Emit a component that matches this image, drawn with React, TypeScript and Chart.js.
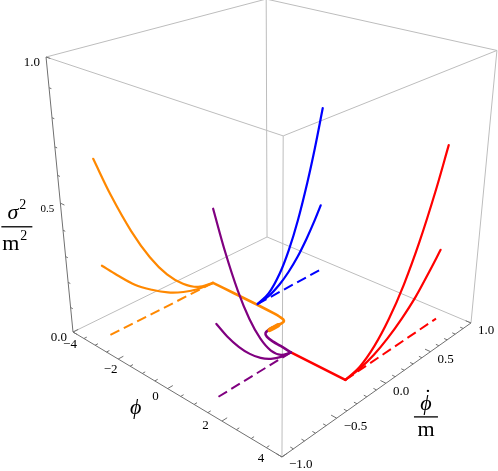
import React, { useEffect, useRef } from "react";
import { Chart, registerables } from "chart.js";
Chart.register(...registerables);

const W = 498;
const H = 471;

// ---- axis ranges ----
const PHI_MIN = -4, PHI_MAX = 4;
const DOT_MIN = -1, DOT_MAX = 1;
const SIG_MIN = 0, SIG_MAX = 1;

// ---- perspective camera (normalised box coords -> page units) ----
const CAM_X = [160.3, 243.3, -32.4, 73];
const CAM_Y = [46.1, -51.3, -281.7, 332];
const CAM_W = [-0.1726, 0.1845, -0.118, 1];

// ---- tick values / labels ----
const phiTicks = [-4, -2, 0, 2, 4];
const phiTickLabels = ["\u22124", "\u22122", "0", "2", "4"];
const phiMinorStep = 0.5;
const dotTicks = [-1, -0.5, 0, 0.5, 1];
const dotTickLabels = ["\u22121.0", "\u22120.5", "0.0", "0.5", "1.0"];
const dotMinorStep = 0.1;
const sigTicks = [0, 0.5, 1];
const sigTickLabels = ["0.0", "0.5", "1.0"];
const sigMinorStep = 0.1;

// ---- floor trajectory (sigma^2 = 0) ----
const orangePathPhi = [-3.1, -2.2, -1.22, -0.5, -0.24, -0.08, 0.01, 0.03, 0.025];
const orangePathDot = [0.155, 0.153, 0.15, 0.143, 0.137, 0.128, 0.11, 0.08, 0.045];
const orangeKnotPhi = [0.025, 0.02, 0.015];
const orangeKnotDot = [0.045, 0.0, -0.04];
const purplePathPhi = [0.02, 0.0, -0.01, 0.04, 0.21, 0.5, 0.8, 1.22];
const purplePathDot = [0.065, 0.01, -0.04, -0.09, -0.12, -0.135, -0.14, -0.15];
const redPathPhi = [1.22, 3.13];
const redPathDot = [-0.15, -0.15];

// ---- kicks: phi position, phidot samples, sigma^2 of the two branches ----
const orangeKickPhi = -3.1;
const orangeKickDot = [0.155, 0.0, -0.15, -0.3, -0.45, -0.6, -0.75, -0.87];
const orangeHighSig = [0, 0.015, 0.06, 0.13, 0.23, 0.36, 0.52, 0.67];
const orangeLowSig = [0, 0.006, 0.025, 0.055, 0.098, 0.15, 0.22, 0.28];

const blueKickPhi = -1.22;
const blueKickDot = [0.16, 0.28, 0.4, 0.5, 0.6, 0.7, 0.78, 0.86];
const blueHighSig = [0, 0.02, 0.079, 0.158, 0.265, 0.4, 0.526, 0.67];
const blueLowSig = [0, 0.008, 0.033, 0.066, 0.11, 0.167, 0.22, 0.28];
const blueDashDot = [0.16, 0.88];

const purpleKickPhi = 1.22;
const purpleKickDot = [-0.15, -0.25, -0.35, -0.45, -0.55, -0.65, -0.75, -0.84];
const purpleHighSig = [0, 0.014, 0.055, 0.125, 0.222, 0.347, 0.5, 0.66];
const purpleLowSig = [0, 0.006, 0.023, 0.051, 0.091, 0.142, 0.204, 0.27];
const purpleDashDot = [-0.15, -0.87];

const redKickPhi = 3.13;
const redKickDot = [-0.15, 0.0, 0.15, 0.3, 0.45, 0.6, 0.75, 0.87];
const redHighSig = [0, 0.014, 0.058, 0.13, 0.23, 0.36, 0.52, 0.67];
const redLowSig = [0, 0.006, 0.024, 0.055, 0.097, 0.15, 0.22, 0.28];
const redDashDot = [-0.15, 0.88];

const orangeDashDot = [0.155, -0.87];

const ORANGE = "#FF8800";
const BLUE = "#0000FF";
const PURPLE = "#800080";
const RED = "#FF0000";
const BOX = "#bdbdbd";
const AXIS = "#707070";
const SERIF = '"Liberation Serif", "Times New Roman", serif';

function proj(phi: number, dot: number, sig: number) {
  const X = (phi - PHI_MIN) / (PHI_MAX - PHI_MIN);
  const Y = (dot - DOT_MIN) / (DOT_MAX - DOT_MIN);
  const Z = (sig - SIG_MIN) / (SIG_MAX - SIG_MIN);
  const w = CAM_W[0] * X + CAM_W[1] * Y + CAM_W[2] * Z + CAM_W[3];
  return {
    x: (CAM_X[0] * X + CAM_X[1] * Y + CAM_X[2] * Z + CAM_X[3]) / w,
    y: (CAM_Y[0] * X + CAM_Y[1] * Y + CAM_Y[2] * Z + CAM_Y[3]) / w,
  };
}

const GAP = { x: null as any, y: null as any };

function lineDs(data: any[], color: string, width: number, extra: any = {}) {
  return {
    data,
    showLine: true,
    borderColor: color,
    backgroundColor: color,
    borderWidth: width,
    pointRadius: 0,
    pointHoverRadius: 0,
    tension: 0,
    fill: false,
    clip: false,
    spanGaps: false,
    borderJoinStyle: "round",
    borderCapStyle: "round",
    ...extra,
  };
}

function range(a: number, b: number, step: number) {
  const out: number[] = [];
  const n = Math.round((b - a) / step);
  for (let i = 0; i <= n; i++) out.push(+(a + i * step).toFixed(6));
  return out;
}

function buildDatasets() {
  const ds: any[] = [];
  // box edges
  const c = [PHI_MIN, PHI_MAX];
  const d = [DOT_MIN, DOT_MAX];
  const s = [SIG_MIN, SIG_MAX];
  const edges: [number[], number[], boolean][] = [];
  for (const dd of d) for (const ss of s) edges.push([[c[0], dd, ss], [c[1], dd, ss], dd === DOT_MIN && ss === SIG_MIN]);
  for (const cc of c) for (const ss of s) edges.push([[cc, d[0], ss], [cc, d[1], ss], cc === PHI_MAX && ss === SIG_MIN]);
  for (const cc of c) for (const dd of d) edges.push([[cc, dd, s[0]], [cc, dd, s[1]], cc === PHI_MIN && dd === DOT_MIN]);
  for (const [a, b, isAxis] of edges) {
    ds.push(lineDs([proj(a[0], a[1], a[2]), proj(b[0], b[1], b[2])], isAxis ? AXIS : BOX, 1, { order: isAxis ? 9 : 10, borderCapStyle: "butt" }));
  }
  // ticks
  const tickPts: any[] = [];
  for (const v of range(PHI_MIN, PHI_MAX, phiMinorStep)) {
    const major = phiTicks.includes(v);
    tickPts.push(proj(v, DOT_MIN, 0), proj(v, DOT_MIN + (major ? 0.045 : 0.025), 0), GAP);
  }
  for (const v of range(DOT_MIN, DOT_MAX, dotMinorStep)) {
    const major = dotTicks.some((t) => Math.abs(t - v) < 1e-6);
    tickPts.push(proj(PHI_MAX, v, 0), proj(PHI_MAX - (major ? 0.18 : 0.1), v, 0), GAP);
  }
  for (const v of range(SIG_MIN, SIG_MAX, sigMinorStep)) {
    const major = sigTicks.some((t) => Math.abs(t - v) < 1e-6);
    tickPts.push(proj(PHI_MIN, DOT_MIN, v), proj(PHI_MIN + (major ? 0.18 : 0.1), DOT_MIN, v), GAP);
  }
  ds.push(lineDs(tickPts, AXIS, 1, { order: 8, borderCapStyle: "butt" }));

  // dashed kicks on the floor
  const dash = (phi: number, dots: number[], color: string) =>
    lineDs(dots.map((v) => proj(phi, v, 0)), color, 2, { borderDash: [10, 5], borderCapStyle: "butt", order: 6 });
  ds.push(dash(orangeKickPhi, orangeDashDot, ORANGE));
  ds.push(dash(blueKickPhi, blueDashDot, BLUE));
  ds.push(dash(purpleKickPhi, purpleDashDot, PURPLE));
  ds.push(dash(redKickPhi, redDashDot, RED));

  // floor trajectory
  const path = (phis: number[], dots: number[], color: string, w: number, t = 0.3) =>
    lineDs(phis.map((p, i) => proj(p, dots[i], 0)), color, w, { tension: t, order: 4 });
  ds.push(path(orangePathPhi, orangePathDot, ORANGE, 2.6));
  ds.push(path(orangeKnotPhi, orangeKnotDot, ORANGE, 4.5));
  ds.push(path(purplePathPhi, purplePathDot, PURPLE, 2.6));
  ds.push(path(redPathPhi, redPathDot, RED, 2.6, 0));

  // rising branches
  const branch = (phi: number, dots: number[], sig: number[], color: string) =>
    lineDs(dots.map((v, i) => proj(phi, v, sig[i])), color, 2.2, { tension: 0.35, order: 2 });
  ds.push(branch(orangeKickPhi, orangeKickDot, orangeHighSig, ORANGE));
  ds.push(branch(orangeKickPhi, orangeKickDot, orangeLowSig, ORANGE));
  ds.push(branch(blueKickPhi, blueKickDot, blueHighSig, BLUE));
  ds.push(branch(blueKickPhi, blueKickDot, blueLowSig, BLUE));
  ds.push(branch(purpleKickPhi, purpleKickDot, purpleHighSig, PURPLE));
  ds.push(branch(purpleKickPhi, purpleKickDot, purpleLowSig, PURPLE));
  ds.push(branch(redKickPhi, redKickDot, redHighSig, RED));
  ds.push(branch(redKickPhi, redKickDot, redLowSig, RED));
  return ds;
}

const labelPlugin = {
  id: "labels3d",
  afterDraw(chart: any) {
    const ctx = chart.ctx;
    const xs = chart.scales.x;
    const ys = chart.scales.y;
    const px = (p: { x: number; y: number }) => ({ x: xs.getPixelForValue(p.x), y: ys.getPixelForValue(p.y) });
    ctx.save();
    ctx.fillStyle = "#000";
    // sigma^2 tick labels
    ctx.textAlign = "right";
    ctx.textBaseline = "middle";
    sigTicks.forEach((v, i) => {
      const p = px(proj(PHI_MIN, DOT_MIN, v));
      ctx.font = `${i === 1 ? 11 : 13}px ${SERIF}`;
      ctx.fillText(sigTickLabels[i], p.x - 6, p.y + 6);
    });
    // phi tick labels
    ctx.textAlign = "center";
    ctx.font = `13px ${SERIF}`;
    phiTicks.forEach((v, i) => {
      const t = (v - PHI_MIN) / (PHI_MAX - PHI_MIN);
      const p = px(proj(v, DOT_MIN, 0));
      ctx.fillText(phiTickLabels[i], p.x - 3 - 18 * t, p.y + 13 - 11 * t);
    });
    // phidot tick labels
    ctx.textAlign = "left";
    dotTicks.forEach((v, i) => {
      const p = px(proj(PHI_MAX, v, 0));
      ctx.fillText(dotTickLabels[i], p.x + 7, p.y + 8);
    });

    // axis title: phi
    const phiTitle = px(proj(0, DOT_MIN, 0));
    ctx.textAlign = "center";
    ctx.textBaseline = "middle";
    ctx.font = `italic 22px ${SERIF}`;
    ctx.fillText("\u03D5", phiTitle.x - 32, phiTitle.y + 20);

    // axis title: sigma^2 / m^2
    const zt = px(proj(PHI_MIN, DOT_MIN, 0.5));
    const fx = zt.x - 44;
    const fy = zt.y + 24;
    ctx.textBaseline = "alphabetic";
    ctx.font = `italic 22px ${SERIF}`;
    ctx.textAlign = "right";
    ctx.fillText("\u03C3", fx + 2, fy - 8);
    ctx.textAlign = "left";
    ctx.font = `14px ${SERIF}`;
    ctx.fillText("2", fx + 3, fy - 18);
    ctx.fillRect(fx - 15, fy - 1, 31, 1.3);
    ctx.font = `22px ${SERIF}`;
    ctx.textAlign = "right";
    ctx.fillText("m", fx + 3, fy + 23);
    ctx.textAlign = "left";
    ctx.font = `14px ${SERIF}`;
    ctx.fillText("2", fx + 4, fy + 13);

    // axis title: phidot / m
    const dt = px(proj(PHI_MAX, 0, 0));
    const gx = dt.x + 40;
    const gy = dt.y + 34;
    ctx.textAlign = "center";
    ctx.font = `italic 22px ${SERIF}`;
    ctx.fillText("\u03D5", gx, gy - 7);
    ctx.font = `22px ${SERIF}`;
    ctx.fillText("\u02D9", gx + 2, gy - 13);
    ctx.fillRect(gx - 12, gy - 1, 24, 1.3);
    ctx.font = `22px ${SERIF}`;
    ctx.fillText("m", gx, gy + 19);
    ctx.restore();
  },
};

export default function App() {
  const ref = useRef<HTMLCanvasElement | null>(null);
  useEffect(() => {
    if (!ref.current) return;
    const chart = new Chart(ref.current, {
      type: "scatter",
      data: { datasets: buildDatasets() },
      options: {
        animation: false,
        responsive: false,
        devicePixelRatio: 1,
        events: [],
        layout: { padding: 0 },
        scales: {
          x: { type: "linear", min: 0, max: W, display: false },
          y: { type: "linear", min: 0, max: H, reverse: true, display: false },
        },
        plugins: { legend: { display: false }, tooltip: { enabled: false } },
      },
      plugins: [labelPlugin],
    } as any);
    return () => chart.destroy();
  }, []);
  return (
    <div style={{ position: "absolute", left: 0, top: 0, width: W, height: H, background: "#fff" }}>
      <canvas ref={ref} width={W} height={H} style={{ display: "block", width: W, height: H }} />
    </div>
  );
}
